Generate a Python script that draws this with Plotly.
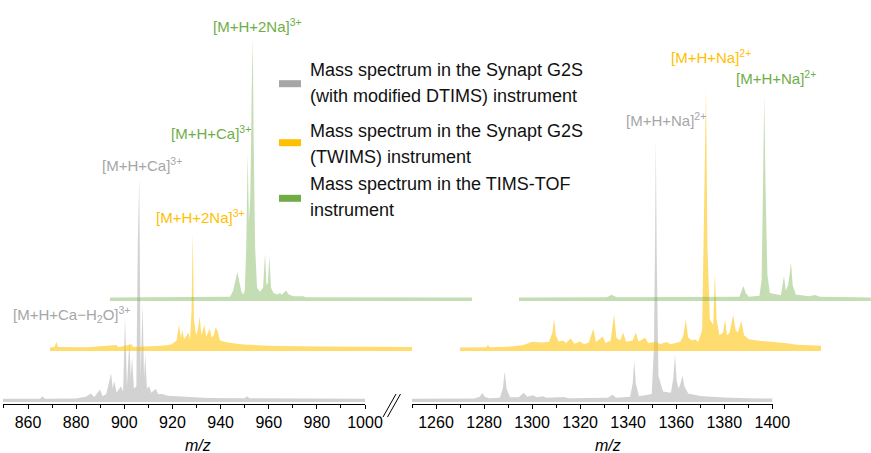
import plotly.graph_objects as go

W, H = 871, 453

# ---------------- data (m/z, relative intensity %) ----------------
gray_left = [(849.6, 1.2), (865, 1.2), (866, 2.2), (867, 1.2), (880, 1.3), (884, 2), (886.2, 3.2), (887.5, 1.8),
             (889.9, 4.8), (891, 2.2), (892.5, 3), (894.5, 10.8), (895.2, 5), (895.8, 8), (896.8, 3.5), (898.6, 6),
             (899.5, 4), (900.3, 32), (901.1, 6), (902.1, 23), (902.7, 9), (903.2, 17), (904, 5), (905, 6),
             (905.6, 60), (906.2, 85), (906.8, 10), (907.6, 37), (908.2, 9), (908.7, 18), (909.4, 5), (910.3, 6),
             (911.2, 3.5), (913.1, 5), (914, 3), (915.8, 3), (918, 2.4), (925, 2), (935, 1.5), (950, 1.4),
             (951, 2.2), (952, 1.4), (1000, 1.2)]
gray_right = [(1250, 1.2), (1276, 1.3), (1278.2, 2), (1279.3, 3.4), (1280.3, 2), (1282, 1.4), (1286.6, 1.6),
              (1287.8, 5), (1288.6, 11.5), (1289.4, 5), (1290.8, 1.8), (1294.5, 1.8), (1296.5, 3.5), (1298, 2),
              (1300.3, 2.6), (1302, 1.8), (1304.5, 2.2), (1306, 1.6), (1313.5, 1.9), (1315, 1.4), (1331.5, 1.6),
              (1333.5, 2.8), (1335, 1.6), (1340.8, 2), (1341.9, 7), (1342.5, 15.6), (1343.2, 7), (1344.5, 2.2),
              (1349.8, 3), (1350.7, 20), (1351.2, 60), (1351.5, 100), (1351.9, 55), (1352.6, 10), (1354.5, 4),
              (1357.8, 3.5), (1358.8, 9), (1359.5, 18), (1360.2, 8), (1361, 5), (1361.8, 7), (1362.6, 10),
              (1363.4, 6), (1365, 3.2), (1370, 2.3), (1380, 1.7), (1390, 1.4), (1400, 1.3)]

yellow_left = [(849.6, 1.3), (851.5, 1.5), (852.3, 3.4), (853, 1.5), (865, 1.4), (877.2, 2.3), (878, 1.4),
               (883.4, 2.6), (884.2, 1.5), (890, 1.8), (896, 2), (900, 2.5), (902.2, 4), (903.2, 10), (904, 5),
               (904.6, 8), (905.3, 4.5), (906.5, 6), (907.1, 7), (907.8, 4.5), (908.4, 15), (908.9, 45),
               (909.4, 12), (910.3, 6), (911, 8), (911.8, 13), (912.5, 6), (913.7, 10), (914.5, 5.5), (916, 8.5),
               (916.8, 5), (917.6, 6), (918.4, 9), (919.3, 7.5), (920.2, 4), (922, 3.5), (925, 3), (930, 2.5),
               (940, 2), (960, 1.7), (1000, 1.5)]
yellow_right = [(1250, 1.3), (1261, 1.4), (1261.6, 2.4), (1262.3, 1.4), (1270, 1.6), (1276, 2.2), (1280, 3.5),
                (1284, 3.2), (1287, 3.5), (1288.4, 7), (1289.1, 12.5), (1289.8, 6), (1291, 3.6), (1292.9, 4),
                (1294, 3), (1296, 4.8), (1297.5, 2.8), (1299.9, 3.6), (1301.5, 2.6), (1303.5, 3.2), (1305.4, 8.5),
                (1306.5, 3.4), (1309.3, 5.5), (1310.5, 3), (1312.6, 4), (1314, 14), (1315, 5), (1316.5, 4),
                (1317.8, 7), (1319, 3.5), (1321.8, 4), (1323, 7), (1324.2, 3.6), (1326.9, 5), (1328.2, 3),
                (1331.7, 3.5), (1333, 2.6), (1335.9, 3.4), (1337.5, 2.6), (1341.5, 3.5), (1342.8, 6), (1343.8, 12),
                (1344.8, 5), (1346.5, 4), (1347.6, 4.5), (1349, 3.5), (1350.6, 8), (1351.5, 55), (1352.2, 100),
                (1352.8, 40), (1353.8, 12), (1355.2, 10), (1355.9, 29.5), (1356.6, 12), (1357.8, 6), (1359.3, 7),
                (1360.1, 12), (1360.9, 6), (1362, 7), (1363.5, 13.7), (1364.5, 8), (1365.5, 7), (1366.9, 11.5),
                (1368, 6), (1370, 4.5), (1375, 3.8), (1380, 3.5), (1385, 3), (1390, 2.4), (1400, 2)]

green_left = [(849.6, 1.3), (880, 1.4), (899.5, 1.6), (900.8, 4), (901.8, 8), (902.5, 11), (903.2, 8), (904.2, 3.5),
              (905, 2.5), (905.6, 4), (906.2, 20), (906.8, 56), (907.3, 30), (907.9, 40), (908.5, 81), (908.9, 100),
              (909.3, 60), (909.9, 20), (910.7, 5), (911.9, 3.5), (913.2, 5), (914, 18), (914.6, 6), (915.2, 7),
              (915.8, 17), (916.5, 5), (917.5, 3), (919.2, 2.5), (920.2, 3), (921, 2.4), (922.7, 4), (924, 2.4),
              (926, 1.8), (929.9, 1.8), (931, 1.4), (1000, 1.3)]
green_right = [(1250, 1.3), (1286.5, 1.4), (1288.5, 2.4), (1290.5, 1.4), (1341.6, 1.6), (1342.4, 4), (1343.2, 5.7),
               (1344.2, 3), (1345.5, 1.6), (1349.9, 2), (1350.8, 8), (1351.4, 45), (1351.9, 78), (1352.4, 45),
               (1353.2, 10), (1354.2, 3), (1358.8, 2.2), (1359.5, 6), (1360.1, 9.5), (1360.8, 4), (1361.8, 6),
               (1362.4, 10), (1363, 14.6), (1363.7, 6), (1365, 2.5), (1370.5, 1.8), (1373, 2.3), (1375, 1.6),
               (1396.2, 1.3)]

left_ticks = [860, 880, 900, 920, 940, 960, 980, 1000]
right_ticks = [1260, 1280, 1300, 1320, 1340, 1360, 1380, 1400]
left_range = [849.6, 1000]
right_range = [1250, 1400.3]

series_names = ["Mass spectrum in the Synapt G2S (with modified DTIMS) instrument",
                "Mass spectrum in the Synapt G2S (TWIMS) instrument",
                "Mass spectrum in the TIMS-TOF instrument"]
legend_lines = [["Mass spectrum in the Synapt G2S", "(with modified DTIMS) instrument"],
                ["Mass spectrum in the Synapt G2S", "(TWIMS) instrument"],
                ["Mass spectrum in the TIMS-TOF", "instrument"]]

peak_labels = [  # text, series index
    ("[M+H+2Na]<sup>3+</sup>", 2),
    ("[M+H+Ca]<sup>3+</sup>", 2),
    ("[M+H+Ca]<sup>3+</sup>", 0),
    ("[M+H+2Na]<sup>3+</sup>", 1),
    ("[M+H+Ca\u2212H<sub>2</sub>O]<sup>3+</sup>", 0),
    ("[M+H+Na]<sup>2+</sup>", 1),
    ("[M+H+Na]<sup>2+</sup>", 2),
    ("[M+H+Na]<sup>2+</sup>", 0),
]

# ---------------- styling ----------------
FONT = "Liberation Sans, Arial, sans-serif"
solid = ["#a6a6a6", "#ffc000", "#70ad47"]
fills = ["rgba(166,166,166,0.5)", "rgba(255,192,0,0.56)", "rgba(112,173,71,0.41)"]


def fx(p):
    return p / W


def fy(p):
    return 1 - p / H


SCALE = 362 / 150.4  # px per m/z unit
PEAK_H = 263  # px for 100 %
# per series: (left panel px span, right panel px span, zero line px)
geom = [((3, 365), (412, 773), 402),
        ((50, 412), (460, 821), 351),
        ((110, 472), (519, 871), 301)]

fig = go.Figure()
layout = dict(
    width=W, height=H, margin=dict(l=0, r=0, t=0, b=0),
    paper_bgcolor="white", plot_bgcolor="rgba(0,0,0,0)",
    showlegend=False, font=dict(family=FONT, size=16, color="#000000"),
)

data_sets = [(gray_left, gray_right), (yellow_left, yellow_right), (green_left, green_right)]
for i, ((lspan, rspan, zero), (dl, dr)) in enumerate(zip(geom, data_sets)):
    xl = "x" if i == 0 else f"x{2 * i + 1}"
    xr = f"x{2 * i + 2}"
    yn = "y" if i == 0 else f"y{i + 1}"
    for dset, xa in ((dl, xl), (dr, xr)):
        mz, inten = zip(*dset)
        fig.add_trace(go.Scatter(x=list(mz), y=list(inten), xaxis=xa, yaxis=yn, mode="lines",
                                 line=dict(width=0, color=fills[i]), fill="tozeroy", fillcolor=fills[i],
                                 name=series_names[i], hoverinfo="skip"))
    r_rng = right_range if i == 0 else [1250, 1250 + (rspan[1] - rspan[0]) / SCALE]
    for key, span, rng, ticks in ((xl, lspan, left_range, left_ticks), (xr, rspan, r_rng, right_ticks)):
        lkey = "xaxis" if key == "x" else "xaxis" + key[1:]
        ax = dict(domain=[fx(span[0]), fx(span[1])], range=rng, anchor="free", automargin=False,
                  showgrid=False, zeroline=False, fixedrange=True)
        if i == 0:
            ax.update(visible=True, position=fy(404), showline=True, linecolor="#000000", linewidth=1.2,
                      ticks="outside", ticklen=4, tickwidth=1, tickcolor="#000000",
                      tickvals=ticks, ticktext=[str(t) for t in ticks],
                      tickfont=dict(family=FONT, size=16, color="#000000"),
                      minor=dict(dtick=10, tick0=0, ticks="outside", ticklen=3, tickwidth=1, tickcolor="#000000"))
        else:
            ax.update(visible=False, position=0)
        layout[lkey] = ax
    ykey = "yaxis" if i == 0 else f"yaxis{i + 1}"
    layout[ykey] = dict(domain=[fy(zero), fy(zero - PEAK_H)], range=[0, 100], visible=False,
                        anchor="free", position=0, fixedrange=True)

# peak labels (left edge px, baseline px)
label_pos = [(211, 31), (169, 138.5), (100, 169.5), (153.5, 222), (11, 319.5), (668.5, 62), (734, 83), (623.5, 125)]
annotations = []
for (txt, si), (lx, by) in zip(peak_labels, label_pos):
    annotations.append(dict(x=fx(lx), y=fy(by - 5.5), xref="paper", yref="paper", xanchor="left",
                            yanchor="middle", text=txt, showarrow=False,
                            font=dict(family=FONT, size=15, color=solid[si])))

# legend
legend_baselines = [(76.7, 102.7), (137.3, 163.3), (190.7, 216.7)]
swatch_centers = [83.7, 142.7, 198.3]
shapes = []
for k in range(3):
    shapes.append(dict(type="rect", xref="paper", yref="paper", x0=fx(279), x1=fx(301),
                       y0=fy(swatch_centers[k] + 3.5), y1=fy(swatch_centers[k] - 3.5),
                       fillcolor=solid[k], line=dict(width=0)))
    for line_txt, bl in zip(legend_lines[k], legend_baselines[k]):
        annotations.append(dict(x=fx(308), y=fy(bl - 6.5), xref="paper", yref="paper", xanchor="left",
                                yanchor="middle", text=line_txt, showarrow=False,
                                font=dict(family=FONT, size=18, color="#111111")))

# axis titles
for cx in (197.5, 608):
    annotations.append(dict(x=fx(cx), y=fy(445), xref="paper", yref="paper", xanchor="center",
                            yanchor="middle", text="<i>m/z</i>", showarrow=False,
                            font=dict(family=FONT, size=16, color="#000000")))

# axis break marks
for dx in (0, 4.5):
    shapes.append(dict(type="line", xref="paper", yref="paper", x0=fx(383 + dx), y0=fy(417),
                       x1=fx(396 + dx), y1=fy(394), line=dict(color="#000000", width=1)))

layout["annotations"] = annotations
layout["shapes"] = shapes
fig.update_layout(**layout)
fig.write_html("out.html")
